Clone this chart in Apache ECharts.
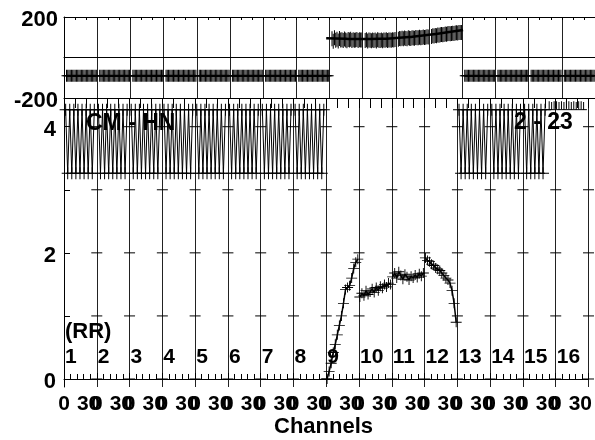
<!DOCTYPE html>
<html><head><meta charset="utf-8">
<script src="https://cdn.jsdelivr.net/npm/echarts@6/dist/echarts.min.js"></script>
<style>html,body{margin:0;padding:0;background:#fff}#c{width:595px;height:440px}</style>
</head><body><div id="c"></div>
<script>
// ---- data ----
const CH = 40;                       // axis channels per block
const blockNames = ['1','2','3','4','5','6','7','8','9','10','11','12','13','14','15','16'];
const xLabelChannels = [0, 30];
const topYLabels = [-200, 200];
const lowerYLabels = [0, 2, 4];
const lowerYTicks = [0, 1, 2, 3, 4];

// top panel, flat blocks
const topFlatBlocks = [1,2,3,4,5,6,7,8,13,14,15,16];
const topFlatChannels = [3,4.5,6,7.5,9,10.5,12,13.5,15,16.5,18,19.5,21,22.5,24,25.5,27,28.5,30,31.5,33,34.5,36,37.5,39];
const topFlatValues = [-90,-90,-90,-90,-90,-90,-90,-90,-90,-90,-90,-90,-90,-90,-90,-90,-90,-90,-90,-90,-90,-90,-90,-90,-90];

// top panel, blocks 9-12
const topFitChannels = [316,340,360,380,400,420,440,460,481];
const topFitValues   = [95,92,91,92,96,103,112,123,136];
const topPointChannels = [3,4.5,6,7.5,9,10.5,12,13.5,15,16.5,18,19.5,21,22.5,24,25.5,27,28.5,30,31.5,33,34.5,36,37.5,39];
const topB9  = [92,80,98,85,90,82,94,86,88,84,91,87,83,89,86,90,84,88,85,87,89,84,88,86,87];
const topB10 = [84,88,82,86,85,83,87,84,86,82,88,85,84,87,83,86,85,88,84,86,87,85,88,86,89];
const topB11 = [90,94,92,95,93,96,94,92,97,95,94,98,96,95,99,97,98,100,97,99,101,99,100,102,101];
const topB12 = [104,107,106,109,108,111,110,112,113,112,114,116,115,117,118,117,119,120,119,121,122,121,123,124,123];

// lower panel, alternating blocks
const zigBlocks = [1,2,3,4,5,6,7,8,13,14];
const zigChannels = [2,4.5,7,9.5,12,14.5,17,19.5,22,24.5,27,29.5,32,34.5,37];
const zigValues   = [4.27,3.26,4.27,3.26,4.27,3.26,4.27,3.26,4.27,3.26,4.27,3.26,4.27,3.26,4.27];
const zig15Channels = [2,4.5,7,9.5,12,14.5,17,19.5,22,24.5,27];
const zig15Values   = [4.27,3.26,4.27,3.26,4.27,3.26,4.27,3.26,4.27,3.26,4.27];
const tailLevel = 4.27;
const tailChannels = [592,595,598,601,604,607,610,613,616,619,622,625,628,631,634];
const tailValues   = [4.34,4.33,4.34,4.34,4.33,4.34,4.33,4.34,4.34,4.33,4.34,4.33,4.34,4.34,4.33];

// lower panel, blocks 9-12
const curveChannels = [1,3.5,6,8.5,11,13.5,16,18.5,21,23.5,26,28.5,31,33.5,36,38.5];
const lowB9  = [0.0,0.12,0.25,0.42,0.55,0.7,0.85,1.0,1.2,1.42,1.45,1.48,1.6,1.75,1.85,1.9];
const lowB10 = [1.3,1.36,1.32,1.4,1.34,1.38,1.43,1.37,1.45,1.4,1.47,1.44,1.5,1.46,1.52,1.5];
const lowB11 = [1.62,1.68,1.6,1.7,1.64,1.58,1.66,1.62,1.57,1.63,1.6,1.65,1.61,1.67,1.63,1.68];
const lowB12 = [1.92,1.88,1.86,1.82,1.8,1.76,1.74,1.72,1.68,1.64,1.6,1.57,1.52,1.4,1.2,0.9];
const blockLabelY = 0.35;

// ---- chart ----
const FONT = 'Liberation Sans';
const plusPath = 'path://M0,5.5h12v1h-12zM5.5,0h1v12h-1z';
const plusTall = 'path://M0,5.5h10v1h-10zM4.5,0h1v12h-1z';
const xOf = (b, c) => (b - 1) * CH + c;
const pairs = (b, chs, vals) => chs.map((c, i) => [xOf(b, c), vals[i]]);
const series = [];
const solid = {color:'#000', opacity:1};

// block-boundary crosses on lower panel
const crossData = [];
for (let k = 1; k <= blockNames.length; k++) lowerYTicks.forEach(v => crossData.push([k * CH, v]));
series.push({type:'scatter', xAxisIndex:2, yAxisIndex:1, data:crossData, symbol:'rect', symbolSize:[11,1],
  itemStyle:solid, silent:true, z:2});

topFlatBlocks.forEach(b => series.push({type:'line', xAxisIndex:0, yAxisIndex:0,
  data:pairs(b, topFlatChannels, topFlatValues), symbol:plusTall, symbolSize:[10,12],
  itemStyle:solid, lineStyle:{color:'#000', width:2}, silent:true, z:3}));

series.push({type:'line', xAxisIndex:0, yAxisIndex:0, data:topFitChannels.map((c,i)=>[c, topFitValues[i]]),
  symbol:'none', smooth:true, lineStyle:{color:'#000', width:2.5}, silent:true, z:4});
[[9,topB9],[10,topB10],[11,topB11],[12,topB12]].forEach(([b,v]) => series.push({type:'scatter', xAxisIndex:0, yAxisIndex:0,
  data:pairs(b, topPointChannels, v), symbol:'rect', symbolSize:[1,15], itemStyle:solid, silent:true, z:3}));

zigBlocks.forEach(b => series.push({type:'line', xAxisIndex:2, yAxisIndex:1,
  data:pairs(b, zigChannels, zigValues), symbol:plusPath, symbolSize:12,
  itemStyle:solid, lineStyle:{color:'#000', width:1}, silent:true, z:3}));
series.push({type:'line', xAxisIndex:2, yAxisIndex:1, data:pairs(15, zig15Channels, zig15Values), symbol:plusPath, symbolSize:12,
  itemStyle:solid, lineStyle:{color:'#000', width:1}, silent:true, z:3});
series.push({type:'scatter', xAxisIndex:2, yAxisIndex:1, data:tailChannels.map((c,i)=>[c, tailValues[i]]),
  symbol:'rect', symbolSize:[1,8], itemStyle:solid, silent:true, z:3});
series.push({type:'line', xAxisIndex:2, yAxisIndex:1,
  data:[[tailChannels[0]-4, tailLevel],[tailChannels[tailChannels.length-1]+4, tailLevel]], symbol:'none',
  lineStyle:{color:'#000', width:1}, silent:true, z:3});

[[9,lowB9],[10,lowB10],[11,lowB11],[12,lowB12]].forEach(([b,v]) => series.push({type:'line', xAxisIndex:2, yAxisIndex:1,
  data:pairs(b, curveChannels, v), symbol:plusPath, symbolSize:[11,10],
  itemStyle:solid, lineStyle:{color:'#000', width:1.5}, silent:true, z:5}));

series.push({type:'scatter', xAxisIndex:2, yAxisIndex:1,
  data:blockNames.map((n,i)=>[i*CH, blockLabelY, n]), symbolSize:0, silent:true, z:1,
  itemStyle:{opacity:1},
  label:{show:true, position:'right', distance:1, formatter:p=>p.data[2], color:'#000', opacity:1,
    fontFamily:FONT, fontWeight:'bold', fontSize:21}});

const xLabelValues = [];
blockNames.forEach((n,i) => xLabelChannels.forEach(c => xLabelValues.push(i*CH + c)));
const lab = {color:'#000', fontFamily:FONT, fontWeight:'bold', fontSize:21};
const blackLine = {show:true, lineStyle:{color:'#000', width:1}};
const yRich = {a:{color:'#000', fontFamily:FONT, fontWeight:'bold', fontSize:22, padding:[6,0,0,0]}};

const option = {
  animation:false,
  backgroundColor:'#fff',
  grid:[{left:64, top:17, width:533, height:81}, {left:64, top:98, width:533, height:289}],
  xAxis:[
    {gridIndex:0, type:'value', position:'bottom', min:0, max:CH*16, interval:CH, axisLine:blackLine,
      axisTick:{show:false}, axisLabel:{show:false}, splitLine:{show:true, lineStyle:{color:'#222', width:1}}},
    {gridIndex:0, type:'value', position:'top', min:0, max:CH*16, interval:CH, axisLine:blackLine,
      axisTick:{show:true, inside:true, length:3, lineStyle:{color:'#000'}},
      minorTick:{show:true, splitNumber:3, length:3, lineStyle:{color:'#000'}},
      axisLabel:{show:false}, splitLine:{show:false}},
    {gridIndex:1, type:'value', position:'bottom', min:0, max:CH*16, interval:CH, axisLine:blackLine,
      axisTick:{show:true, inside:true, length:6, lineStyle:{color:'#000'}},
      minorTick:{show:true, splitNumber:5, length:5, lineStyle:{color:'#000'}},
      axisLabel:Object.assign({show:true, margin:7, customValues:xLabelValues,
        formatter:v => String(Math.round(v) % CH)}, lab),
      splitLine:{show:true, lineStyle:{color:'#222', width:1}}},
    {gridIndex:1, type:'value', position:'top', min:0, max:CH*16, interval:CH, axisLine:blackLine,
      axisTick:{show:true, inside:true, length:10, lineStyle:{color:'#000'}},
      minorTick:{show:true, splitNumber:3, length:10, lineStyle:{color:'#000'}},
      axisLabel:{show:false}, splitLine:{show:false}}
  ],
  yAxis:[
    {gridIndex:0, type:'value', min:-200, max:200, interval:200, axisLine:blackLine, axisTick:{show:false},
      axisLabel:{margin:6, customValues:topYLabels, formatter:v=>'{a|'+v+'}', rich:yRich},
      splitLine:{show:true, lineStyle:{color:'#000', width:1}}},
    {gridIndex:1, type:'value', min:-0.127, max:4.455, axisLine:blackLine,
      axisTick:{show:true, inside:true, length:6, customValues:lowerYTicks, lineStyle:{color:'#000'}},
      axisLabel:{margin:8, customValues:lowerYLabels, formatter:v=>'{a|'+v+'}', rich:yRich},
      splitLine:{show:false}}
  ],
  graphic:[
    {type:'text', left:86, top:112, z:10, style:{text:'CM - HN', fill:'#000', font:'bold 23px "Liberation Sans"'}},
    {type:'text', left:514, top:111, z:10, style:{text:'2 - 23', fill:'#000', font:'bold 23px "Liberation Sans"'}},
    {type:'text', left:65, top:321, z:10, style:{text:'(RR)', fill:'#000', font:'bold 22px "Liberation Sans"'}},
    {type:'text', left:274, top:416, z:10, style:{text:'Channels', fill:'#000', font:'bold 22px "Liberation Sans"'}}
  ],
  series:series
};
echarts.init(document.getElementById('c'), null, {renderer:'canvas'}).setOption(option);
</script></body></html>
